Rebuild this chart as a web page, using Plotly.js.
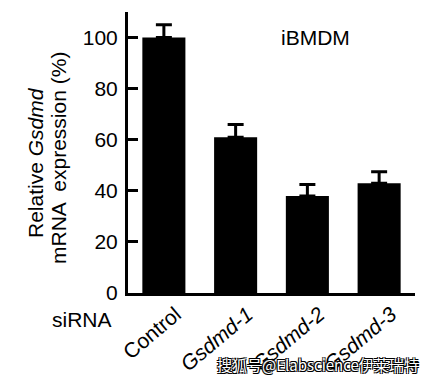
<!DOCTYPE html>
<html><head><meta charset="utf-8">
<script src="https://cdn.plot.ly/plotly-3.0.1.min.js"></script>
<style>html,body{margin:0;padding:0;background:#fff}#c{width:438px;height:380px}</style>
</head><body><div id="c"></div>
<script>
const categories = ['Control', '<i>Gsdmd-1</i>', '<i>Gsdmd-2</i>', '<i>Gsdmd-3</i>'];
const values = [100, 61, 38, 43];
const errors = [5, 5, 4.5, 4.5];
const yTicks = [0, 20, 40, 60, 80, 100];

const font = 'Liberation Sans, Arial, sans-serif';
const L = 128, R = 415, T = 12, B = 293;
const px = x => (x - L) / (R - L);
const py = y => (B - y) / (B - T);

const trace = {
  type: 'bar', x: categories, y: values, width: 0.6,
  marker: {color: '#000', line: {width: 0}},
  error_y: {type: 'data', array: errors, symmetric: false, arrayminus: errors.map(()=>0),
            color: '#000', thickness: 3, width: 8, visible: true}
};
const layout = {
  width: 438, height: 380, showlegend: false,
  margin: {l: L, r: 438 - R, t: T, b: 380 - B},
  paper_bgcolor: '#fff', plot_bgcolor: '#fff',
  font: {family: font, color: '#000', size: 21},
  xaxis: {showline: true, linewidth: 3, linecolor: '#000', ticks: '', tickangle: -40,
          tickfont: {size: 21, family: font}, showgrid: false, zeroline: false,
          ticklabelshift: 12, ticklabelstandoff: -2},
  yaxis: {range: [0, 110], showline: true, linewidth: 3, linecolor: '#000', ticks: 'inside',
          ticklen: 10, tickwidth: 3, tickcolor: '#000', tickvals: yTicks,
          tickfont: {size: 21, family: font}, showgrid: false, zeroline: false, ticklabelstandoff: 3},
  annotations: [
    {xref: 'paper', yref: 'paper', x: px(36), y: py(163), xanchor: 'center', yanchor: 'middle',
     textangle: -90, showarrow: false, text: 'Relative <i>Gsdmd</i>', font: {size: 21, family: font}},
    {xref: 'paper', yref: 'paper', x: px(58), y: py(158), xanchor: 'center', yanchor: 'middle',
     textangle: -90, showarrow: false, text: 'mRNA  expression (%)', font: {size: 21, family: font}},
    {xref: 'paper', yref: 'paper', x: px(315), y: py(37), xanchor: 'center', yanchor: 'middle',
     showarrow: false, text: 'iBMDM', font: {size: 21, family: font}},
    {xref: 'paper', yref: 'paper', x: px(82), y: py(319), xanchor: 'center', yanchor: 'middle',
     showarrow: false, text: 'siRNA', font: {size: 21, family: font}},
    {xref: 'paper', yref: 'paper', x: px(318), y: py(364), xanchor: 'center', yanchor: 'middle',
     showarrow: false, text: '搜狐号@Elabscience伊莱瑞特',
     font: {size: 15, family: 'Noto Sans CJK SC, sans-serif', color: '#fff',
            shadow: '1px 1px 0 #000, -1px -1px 0 #000, 1px -1px 0 #000, -1px 1px 0 #000'}}
  ]
};
Plotly.newPlot('c', [trace], layout, {staticPlot: true, displayModeBar: false});
</script></body></html>
